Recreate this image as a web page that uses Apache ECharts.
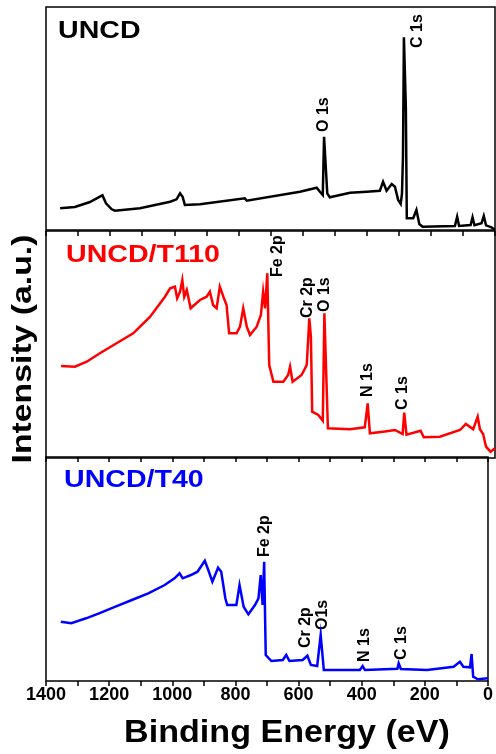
<!DOCTYPE html>
<html>
<head>
<meta charset="utf-8">
<script src="https://cdn.jsdelivr.net/npm/echarts@6/dist/echarts.min.js"></script>
<style>
  html, body { margin: 0; padding: 0; background: #fff; }
  #chart { width: 496px; height: 754px; }
</style>
</head>
<body>
<div id="chart"></div>
<script>
const FONT = '"Liberation Sans", Arial, sans-serif';

// binding energy (eV) / intensity (a.u.)
const uncdEnergy = [1356, 1310, 1263, 1232, 1224, 1213, 1195, 1185, 1107, 1013, 993, 982, 974, 967, 920, 780, 774, 608, 556, 546, 537, 533, 527, 523, 515, 452, 400, 359, 349, 338, 322, 312, 302, 294, 290, 287, 284, 278, 275, 255, 245, 236, 226, 125, 118, 112, 76, 70, 64, 42, 35, 28, 11, 0];
const uncdCounts = [21.7, 23, 28, 33.3, 34.7, 26.7, 20.7, 19.3, 21.7, 28.3, 30.7, 36.7, 33.3, 25, 25.7, 31.7, 29.3, 38.3, 42.3, 38.3, 35, 93.3, 95, 36.7, 32.7, 37.3, 38.3, 39.3, 48.3, 39.3, 46, 43.3, 30, 26, 36.7, 73.3, 192.7, 123.3, 11.7, 11.7, 20, 6, 3.3, 4, 13.3, 4, 5, 12.7, 4.7, 6.7, 14, 4.7, 2.7, 0];

const t110Energy = [1353, 1310, 1273, 1232, 1180, 1128, 1076, 1029, 1013, 998, 991, 982, 975, 969, 961, 949, 920, 899, 889, 879, 868, 858, 847, 837, 829, 806, 795, 785, 774, 764, 743, 730, 723, 717, 710, 704, 691, 660, 645, 639, 631, 603, 587, 579, 574, 570, 551, 537, 532, 526, 521, 452, 406, 397, 390, 349, 312, 288, 283, 276, 232, 222, 172, 109, 91, 68, 54, 47, 37, 28, 14, 0];
const t110Counts = [92, 91.3, 96.3, 104.7, 114.7, 124.7, 141, 161.3, 169.7, 171.3, 159.7, 166.3, 178, 161.3, 168, 149.7, 158, 161.3, 166.3, 153, 149.7, 171.3, 161.3, 153, 124.7, 124.7, 131.3, 149.7, 131.3, 123, 131.3, 143, 166.3, 149.7, 184.7, 93, 76.3, 76.3, 83, 91.3, 76.3, 83, 93, 139.7, 121.3, 46.3, 43, 37.3, 144.7, 144.7, 29.7, 28.7, 30.7, 54.7, 24.7, 26.3, 28, 24, 45.3, 23.3, 27.3, 20.7, 21.3, 28, 34, 28.7, 41.3, 28.7, 24, 11.3, 6.3, 9.7];

const t40Energy = [1353, 1320, 1273, 1232, 1180, 1128, 1076, 1024, 993, 977, 967, 941, 920, 897, 886, 873, 855, 845, 832, 826, 797, 787, 774, 759, 738, 727, 720, 714, 709, 704, 686, 650, 639, 629, 587, 572, 561, 541, 530, 520, 406, 397, 390, 287, 283, 276, 193, 109, 89, 78, 57, 52, 47, 32, 0];
const t40Counts = [59.3, 57.7, 62.7, 67.7, 74.3, 81, 87.7, 96, 102.7, 107.7, 102.7, 106, 109.3, 120.3, 111, 99.3, 113.3, 109.3, 82.7, 76, 76, 96, 74.3, 66.7, 76, 82.7, 106, 76, 119.3, 26, 20, 21, 26, 20, 21, 25.3, 16, 15, 46, 11, 11, 15, 11, 12.3, 17.7, 12, 11, 14.3, 19.3, 14.3, 13.7, 27, 4.3, 1.7, 2.7];

// peak annotations: [energy, intensity at label foot, text]
const uncdPeaks = [[533, 98, 'O 1s'], [242, 182, 'C 1s']];
const t110Peaks = [[677, 181, 'Fe 2p'], [585, 140, 'Cr 2p'], [530, 146, 'O 1s'], [396, 61, 'N 1s'], [289, 48, 'C 1s']];
const t40Peaks = [[708, 124, 'Fe 2p'], [577, 33, 'Cr 2p'], [524, 51, 'O1s'], [390, 19, 'N 1s'], [275, 21, 'C 1s']];

const panelNames = ['UNCD', 'UNCD/T110', 'UNCD/T40'];
const panelColors = ['#000000', '#ff0000', '#0000ff'];

const panels = [
  { top: 7, height: 223, energy: uncdEnergy, counts: uncdCounts, peaks: uncdPeaks, titleX: 58, titleY: 31 },
  { top: 231, height: 227, energy: t110Energy, counts: t110Counts, peaks: t110Peaks, titleX: 66, titleY: 255 },
  { top: 457, height: 224, energy: t40Energy, counts: t40Counts, peaks: t40Peaks, titleX: 64, titleY: 480 }
];

const chart = echarts.init(document.getElementById('chart'));

const grid = panels.map(p => ({
  left: 46, width: 449, top: p.top, height: p.height,
  show: true, borderColor: '#000', borderWidth: 1.5, backgroundColor: 'transparent'
}));

function xAx(gridIndex, position, opts) {
  return Object.assign({
    type: 'value', gridIndex, position, min: 0, max: 1400, interval: 100, inverse: true,
    axisLine: { show: false },
    axisTick: { show: false },
    axisLabel: { show: false },
    splitLine: { show: false }
  }, opts || {});
}

const xAxis = [
  xAx(0, 'bottom'),
  xAx(1, 'bottom'),
  xAx(2, 'bottom', {
    axisTick: { show: true, inside: false, length: 5, lineStyle: { color: '#000', width: 1.5 } },
    axisLabel: {
      show: true, margin: 5, color: '#000', fontSize: 18, fontWeight: 'bold', fontFamily: FONT,
      formatter: v => (v % 200 === 0 ? String(v) : '')
    }
  }),
  xAx(1, 'top', { axisTick: { show: true, inside: true, length: 5, lineStyle: { color: '#000', width: 1.5 } } }),
  xAx(2, 'top', { axisTick: { show: true, inside: true, length: 5, lineStyle: { color: '#000', width: 1.5 } } })
];

const yAxis = panels.map((p, i) => ({
  type: 'value', gridIndex: i, min: 0, max: p.height,
  axisLine: { show: false }, axisTick: { show: false }, axisLabel: { show: false }, splitLine: { show: false }
}));

const series = panels.map((p, i) => ({
  type: 'line',
  xAxisIndex: i,
  yAxisIndex: i,
  data: p.energy.map((e, k) => [e, p.counts[k]]),
  showSymbol: false,
  lineStyle: { color: panelColors[i], width: 2.5, join: 'miter' },
  animation: false
}));

chart.setOption({
  animation: false,
  grid, xAxis, yAxis, series
});

// text overlays; peak labels are placed through the series' own scales
const graphic = [];
panels.forEach((p, i) => {
  graphic.push({
    type: 'text', x: p.titleX, y: p.titleY, scaleX: 1.19,
    style: { text: panelNames[i], fill: panelColors[i], font: 'bold 24px ' + FONT, align: 'left', verticalAlign: 'middle' }
  });
  p.peaks.forEach(pk => {
    const pt = chart.convertToPixel({ seriesIndex: i }, [pk[0], pk[1]]);
    graphic.push({
      type: 'text', x: pt[0], y: pt[1], rotation: Math.PI / 2,
      style: { text: pk[2], fill: '#000', font: 'bold 16px ' + FONT, align: 'left', verticalAlign: 'middle' }
    });
  });
});

graphic.push({
  type: 'text', x: 287, y: 733, scaleX: 1.1,
  style: { text: 'Binding Energy (eV)', fill: '#000', font: 'bold 31px ' + FONT, align: 'center', verticalAlign: 'middle' }
});
graphic.push({
  type: 'text', x: 24, y: 349, rotation: Math.PI / 2, scaleX: 1.25,
  style: { text: 'Intensity (a.u.)', fill: '#000', font: 'bold 27px ' + FONT, align: 'center', verticalAlign: 'middle' }
});

chart.setOption({ graphic });
</script>
</body>
</html>
